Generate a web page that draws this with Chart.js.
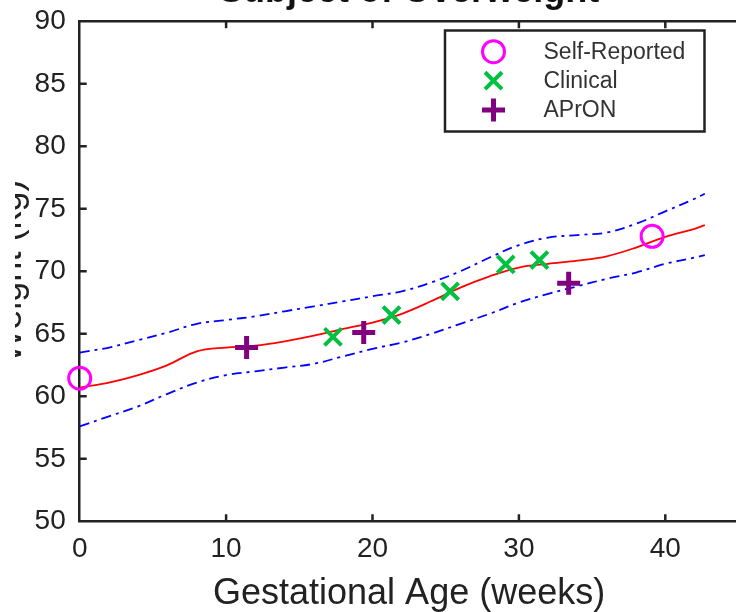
<!DOCTYPE html>
<html>
<head>
<meta charset="utf-8">
<title>Subject of Overweight</title>
<script src="https://cdn.jsdelivr.net/npm/chart.js@4.4.0/dist/chart.umd.min.js"></script>
<style>
  html, body { margin: 0; padding: 0; background: #fff; overflow: hidden; }
  body { width: 736px; height: 612px; position: relative; }
  /* canvas is shifted so the title and y label get cut like the original figure */
  #wrap { position: absolute; left: 15px; top: -30px; width: 740px; height: 642px; }
</style>
</head>
<body>
<div id="wrap"><canvas id="myChart" width="740" height="642"></canvas></div>
<script>
  // mean curve and the two dash-dot bounds (weeks -> kg)
  const curveWeeks = [0, 2, 4, 6, 8, 10, 12, 14, 16, 18, 20, 22, 24, 26, 28, 30, 32, 34, 36, 38, 40, 42, 42.7];
  const meanWeight = [60.7, 61.1, 61.7, 62.5, 63.6, 63.9, 64.05, 64.4, 64.85, 65.4, 65.9, 66.6, 67.6, 68.7, 69.6, 70.3, 70.6, 70.85, 71.2, 71.9, 72.75, 73.4, 73.7];
  const upperWeight = [63.5, 63.9, 64.5, 65.1, 65.8, 66.1, 66.4, 66.8, 67.2, 67.6, 68.0, 68.4, 69.1, 70.0, 71.1, 72.1, 72.7, 72.9, 73.1, 73.8, 74.8, 75.8, 76.2];
  const lowerWeight = [57.6, 58.4, 59.2, 60.2, 61.1, 61.7, 62.0, 62.3, 62.6, 63.2, 63.8, 64.3, 65.0, 65.8, 66.6, 67.5, 68.2, 68.8, 69.4, 69.9, 70.6, 71.1, 71.3];

  // measurements
  const selfWeeks = [0, 39.1];
  const selfWeight = [61.45, 72.8];
  const clinicalWeeks = [17.3, 21.3, 25.3, 29.1, 31.4];
  const clinicalWeight = [64.75, 66.5, 68.4, 70.55, 70.9];
  const apronWeeks = [11.4, 19.4, 33.4];
  const apronWeight = [63.9, 65.1, 69.05];

  // axis ticks
  const xTicks = [0, 10, 20, 30, 40];
  const yTicks = [50, 55, 60, 65, 70, 75, 80, 85, 90];

  const toPoints = (xs, ys) => xs.map((x, i) => ({ x: x, y: ys[i] }));

  const FONT = "'Liberation Sans', Arial, Helvetica, sans-serif";
  const AXIS = '#222';

  // inward tick marks on bottom/left plus the top frame line with its ticks
  const frameTicks = {
    id: 'frameTicks',
    afterDraw(chart) {
      const { ctx, chartArea } = chart;
      const xs = chart.scales.x, ys = chart.scales.y;
      const len = 7;
      ctx.save();
      ctx.strokeStyle = AXIS;
      ctx.lineWidth = 2.5;
      ctx.beginPath();
      ctx.moveTo(chartArea.left - 1.25, chartArea.top);
      ctx.lineTo(chartArea.right + 20, chartArea.top);
      xTicks.forEach(v => {
        if (v === xs.min) return;
        const px = xs.getPixelForValue(v);
        ctx.moveTo(px, chartArea.bottom);
        ctx.lineTo(px, chartArea.bottom - len);
        ctx.moveTo(px, chartArea.top);
        ctx.lineTo(px, chartArea.top + len);
      });
      yTicks.forEach(v => {
        if (v === ys.min || v === ys.max) return;
        const py = ys.getPixelForValue(v);
        ctx.moveTo(chartArea.left, py);
        ctx.lineTo(chartArea.left + len, py);
      });
      ctx.stroke();
      ctx.restore();
    }
  };

  // boxed legend inside the top-right corner, styled like the markers
  const boxLegend = {
    id: 'boxLegend',
    afterDraw(chart) {
      const { ctx, chartArea } = chart;
      const r = chartArea.right, t = chartArea.top;
      ctx.save();
      ctx.fillStyle = '#fff';
      ctx.strokeStyle = AXIS;
      ctx.lineWidth = 2.5;
      ctx.fillRect(r - 293.5, t + 9.2, 259.5, 101);
      ctx.strokeRect(r - 293.5, t + 9.2, 259.5, 101);

      const rows = [30.4, 59.4, 88.7];
      const sx = r - 245;
      chart.data.datasets.slice(0, 3).forEach((ds, i) => {
        const cy = t + rows[i];
        ctx.strokeStyle = ds.borderColor;
        ctx.lineWidth = ds.borderWidth;
        ctx.beginPath();
        if (ds.pointStyle === 'circle') {
          ctx.arc(sx, cy, ds.pointRadius, 0, Math.PI * 2);
        } else if (ds.pointStyle === 'crossRot') {
          const d = ds.pointRadius * Math.SQRT1_2;
          ctx.moveTo(sx - d, cy - d); ctx.lineTo(sx + d, cy + d);
          ctx.moveTo(sx - d, cy + d); ctx.lineTo(sx + d, cy - d);
        } else {
          const d = ds.pointRadius;
          ctx.moveTo(sx - d, cy); ctx.lineTo(sx + d, cy);
          ctx.moveTo(sx, cy - d); ctx.lineTo(sx, cy + d);
        }
        ctx.stroke();
        ctx.fillStyle = '#333';
        ctx.font = '23px ' + FONT;
        ctx.textBaseline = 'middle';
        ctx.textAlign = 'left';
        ctx.fillText(ds.label, r - 195, cy + 1);
      });
      ctx.restore();
    }
  };

  const markerSet = (label, xs, ys, style, color, radius, width) => ({
    label: label,
    data: toPoints(xs, ys),
    showLine: false,
    pointStyle: style,
    pointRadius: radius,
    pointHoverRadius: radius,
    borderColor: color,
    backgroundColor: 'rgba(0,0,0,0)',
    borderWidth: width,
    pointBorderWidth: width,
    clip: false
  });

  const curveSet = (label, ys, color, dash) => ({
    label: label,
    data: toPoints(curveWeeks, ys),
    borderColor: color,
    borderWidth: 1.8,
    borderDash: dash,
    pointRadius: 0,
    tension: 0.35,
    fill: false,
    clip: false
  });

  const ctx = document.getElementById('myChart').getContext('2d');
  new Chart(ctx, {
    type: 'line',
    data: {
      datasets: [
        markerSet('Self-Reported', selfWeeks, selfWeight, 'circle', '#ff00ff', 11, 3),
        markerSet('Clinical', clinicalWeeks, clinicalWeight, 'crossRot', '#00c040', 12, 4),
        markerSet('APrON', apronWeeks, apronWeight, 'cross', '#800080', 11.5, 5),
        curveSet('Mean', meanWeight, '#ff0000', []),
        curveSet('Upper', upperWeight, '#0000ff', [10, 5, 3, 5]),
        curveSet('Lower', lowerWeight, '#0000ff', [10, 5, 3, 5])
      ]
    },
    options: {
      responsive: false,
      animation: false,
      layout: { padding: { left: 0, right: 14, top: 0, bottom: 0 } },
      plugins: {
        legend: { display: false },
        tooltip: { enabled: false },
        title: {
          display: true,
          text: 'Subject of Overweight',
          fullSize: false,
          color: '#111',
          font: { family: FONT, size: 36, weight: 'bold', lineHeight: 1.2 },
          padding: { top: 0, bottom: 8.1 }
        }
      },
      scales: {
        x: {
          type: 'linear',
          min: 0,
          max: 45,
          afterBuildTicks: (scale) => { scale.ticks = xTicks.map(v => ({ value: v })); },
          afterFit: (scale) => { scale.height = 90.7; },
          grid: { display: false, drawTicks: false },
          border: { display: true, color: AXIS, width: 2.5 },
          ticks: { padding: 11, color: '#222', font: { family: FONT, size: 28 } },
          title: {
            display: true,
            text: 'Gestational Age (weeks)',
            color: '#222',
            font: { family: FONT, size: 36, lineHeight: 1 },
            padding: { top: 0, bottom: 0 }
          }
        },
        y: {
          min: 50,
          max: 90,
          afterBuildTicks: (scale) => { scale.ticks = yTicks.map(v => ({ value: v })); },
          afterFit: (scale) => { scale.width = 64.7; },
          grid: { display: false, drawTicks: false },
          border: { display: true, color: AXIS, width: 2.5 },
          ticks: { padding: 14, color: '#222', font: { family: FONT, size: 28 } },
          title: {
            display: true,
            text: 'Weight (kg)',
            color: '#222',
            font: { family: FONT, size: 36, lineHeight: 1 },
            padding: { top: -21.5, bottom: 0 }
          }
        }
      }
    },
    plugins: [frameTicks, boxLegend]
  });
</script>
</body>
</html>
